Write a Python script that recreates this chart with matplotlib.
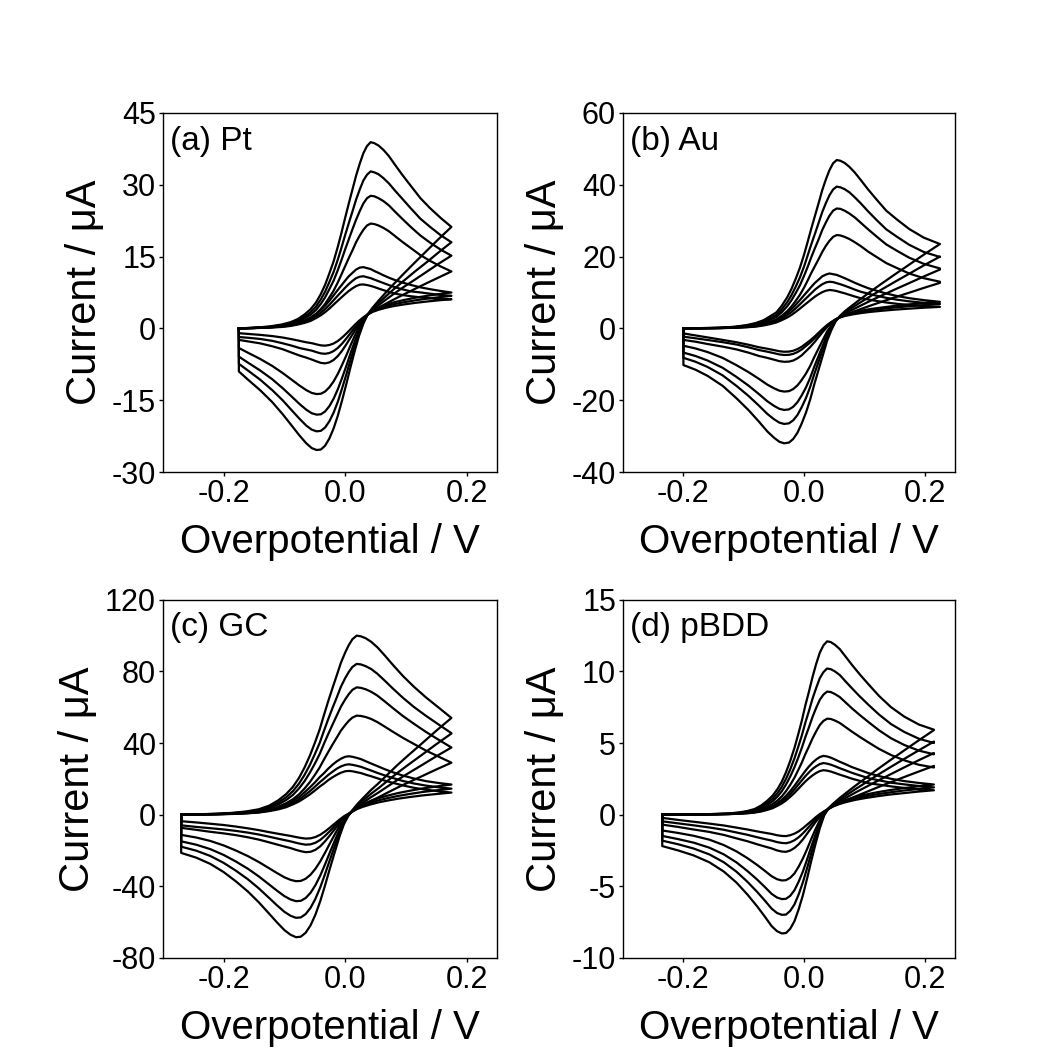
import matplotlib
matplotlib.use("Agg")
import matplotlib.pyplot as plt
from matplotlib.ticker import FormatStrFormatter

plt.rcParams['font.family'] = ['Liberation Sans', 'DejaVu Sans']
plt.rcParams['axes.unicode_minus'] = False

# Each panel: potential grids (V) for the forward and reverse sweeps, and one
# current list (uA) per scan rate, smallest to largest.

# ---------------- (a) Pt ----------------
pt_E_fwd = [-0.175, -0.15, -0.125, -0.105, -0.09, -0.078, -0.067, -0.057, -0.048, -0.04, -0.033,
            -0.026, -0.019, -0.012, -0.006, 0.0, 0.006, 0.012, 0.018, 0.024, 0.03, 0.036, 0.042,
            0.048, 0.055, 0.063, 0.072, 0.082, 0.094, 0.108, 0.124, 0.14, 0.158, 0.175]
pt_E_rev = [0.175, 0.155, 0.135, 0.115, 0.097, 0.081, 0.067, 0.055, 0.045, 0.037, 0.03, 0.023,
            0.016, 0.009, 0.002, -0.005, -0.012, -0.019, -0.026, -0.033, -0.04, -0.047, -0.055,
            -0.064, -0.075, -0.088, -0.103, -0.12, -0.14, -0.16, -0.175]
pt_fwd = [
    [0.0, 0.06, 0.17, 0.3, 0.51, 0.81, 1.15, 1.56, 2.16, 2.76, 3.4, 4.14, 4.97, 5.8, 6.49, 7.18, 7.82,
     8.37, 8.83, 9.14, 9.18, 9.06, 8.88, 8.65, 8.33, 8.0, 7.64, 7.27, 6.99, 6.72, 6.49, 6.3, 6.19, 6.1],
    [0.0, 0.08, 0.2, 0.36, 0.6, 0.96, 1.36, 1.85, 2.56, 3.27, 4.03, 4.91, 5.89, 6.87, 7.68, 8.5, 9.27,
     9.92, 10.5, 10.8, 10.9, 10.7, 10.5, 10.2, 9.86, 9.48, 9.05, 8.61, 8.18, 7.74, 7.52, 7.25, 6.98, 6.8],
    [0.0, 0.09, 0.23, 0.42, 0.7, 1.13, 1.6, 2.18, 3.0, 3.84, 4.74, 5.76, 6.91, 8.06, 9.02, 9.98, 10.9,
     11.6, 12.3, 12.7, 12.8, 12.6, 12.4, 12.0, 11.6, 11.1, 10.6, 10.1, 9.6, 9.09, 8.58, 8.19, 7.81, 7.5],
    [0.0, 0.08, 0.23, 0.45, 0.73, 1.1, 1.63, 2.25, 3.04, 4.05, 5.12, 6.47, 7.88, 9.63, 11.3, 13.0, 14.7,
     16.3, 18.0, 19.4, 20.6, 21.5, 21.9, 21.8, 21.5, 21.0, 20.3, 19.3, 18.1, 16.8, 15.3, 14.1, 12.9, 11.9],
    [0.0, 0.11, 0.29, 0.57, 0.93, 1.39, 2.07, 2.85, 3.85, 5.13, 6.49, 8.2, 9.98, 12.2, 14.3, 16.5, 18.6,
     20.7, 22.7, 24.5, 26.1, 27.2, 27.7, 27.6, 27.2, 26.6, 25.7, 24.4, 22.9, 21.2, 19.4, 17.9, 16.4, 15.2],
    [0.0, 0.13, 0.34, 0.67, 1.1, 1.64, 2.44, 3.37, 4.55, 6.07, 7.67, 9.69, 11.8, 14.4, 16.9, 19.5, 22.0,
     24.4, 26.9, 29.0, 30.9, 32.1, 32.8, 32.6, 32.2, 31.4, 30.3, 28.8, 27.1, 25.1, 22.9, 21.2, 19.4, 18.0],
    [0.0, 0.15, 0.4, 0.8, 1.3, 1.95, 2.9, 4.0, 5.4, 7.2, 9.1, 11.5, 14.0, 17.1, 20.0, 23.1, 26.1,
     29.0, 31.9, 34.4, 36.6, 38.1, 38.9, 38.7, 38.2, 37.3, 36.0, 34.2, 32.1, 29.8, 27.2, 25.1, 23.0, 21.2],
]
pt_rev = [
    [6.1, 5.88, 5.62, 5.33, 5.01, 4.69, 4.31, 3.89, 3.44, 2.9, 2.32, 1.6, 0.76, -0.16, -1.07, -1.91,
     -2.63, -3.15, -3.47, -3.6, -3.54, -3.34, -3.08, -2.9, -2.6, -2.25, -1.9, -1.6, -1.35, -1.15, -1.0],
    [6.8, 6.53, 6.22, 5.86, 5.47, 5.08, 4.62, 4.11, 3.56, 2.9, 2.16, 1.26, 0.19, -0.95, -2.1, -3.17,
     -4.07, -4.73, -5.14, -5.3, -5.22, -4.97, -4.64, -4.4, -4.1, -3.6, -3.1, -2.6, -2.2, -1.95, -1.8],
    [7.5, 7.18, 6.81, 6.4, 5.94, 5.48, 4.92, 4.33, 3.68, 2.9, 1.98, 0.86, -0.47, -1.89, -3.32, -4.65,
     -5.77, -6.59, -7.1, -7.3, -7.2, -6.89, -6.5, -6.1, -5.67, -5.06, -4.34, -3.73, -3.12, -2.71, -2.4],
    [11.9, 10.7, 9.5, 8.26, 7.13, 6.1, 5.16, 4.33, 3.59, 2.9, 1.78, 0.32, -1.5, -3.5, -5.61, -7.61,
     -9.49, -11.07, -12.3, -13.18, -13.65, -13.71, -13.48, -12.89, -11.95, -10.72, -9.31, -7.84, -6.37, -5.08, -4.09],
    [15.2, 13.6, 11.9, 10.2, 8.7, 7.3, 6.0, 4.85, 3.84, 2.9, 1.5, -0.35, -2.64, -5.16, -7.82, -10.33,
     -12.69, -14.69, -16.24, -17.35, -17.94, -18.01, -17.72, -16.98, -15.8, -14.24, -12.47, -10.62, -8.78, -7.15, -5.89],
    [18.0, 16.0, 13.9, 11.9, 10.0, 8.3, 6.7, 5.3, 4.1, 2.9, 1.26, -0.89, -3.57, -6.5, -9.6, -12.5,
     -15.3, -17.6, -19.4, -20.7, -21.4, -21.5, -21.15, -20.3, -18.9, -17.1, -15.0, -12.9, -10.7, -8.8, -7.4],
    [21.2, 18.8, 16.3, 13.8, 11.5, 9.4, 7.5, 5.8, 4.3, 2.9, 1.0, -1.5, -4.6, -8.0, -11.6, -15.0,
     -18.2, -20.9, -23.0, -24.5, -25.3, -25.4, -25.0, -24.0, -22.4, -20.3, -17.9, -15.4, -12.9, -10.7, -9.0],
]

# ---------------- (b) Au ----------------
au_E_fwd = [-0.2, -0.17, -0.14, -0.115, -0.095, -0.08, -0.067, -0.056, -0.046, -0.037, -0.028,
            -0.021, -0.014, -0.007, 0.0, 0.006, 0.012, 0.018, 0.024, 0.03, 0.036, 0.042, 0.048,
            0.054, 0.06, 0.067, 0.075, 0.084, 0.094, 0.106, 0.12, 0.136, 0.154, 0.174, 0.198, 0.225]
au_E_rev = [0.225, 0.2, 0.175, 0.15, 0.128, 0.109, 0.093, 0.079, 0.067, 0.059, 0.052, 0.045, 0.038,
            0.031, 0.024, 0.017, 0.01, 0.003, -0.004, -0.011, -0.018, -0.025, -0.033, -0.041, -0.05,
            -0.061, -0.075, -0.092, -0.112, -0.135, -0.16, -0.18, -0.2]
au_fwd = [
    [0.0, 0.03, 0.07, 0.17, 0.32, 0.5, 0.83, 1.21, 1.66, 2.3, 3.05, 3.75, 4.6, 5.51, 6.47, 7.28, 8.08,
     8.88, 9.52, 10.1, 10.5, 10.7, 10.6, 10.4, 10.1, 9.79, 9.36, 8.88, 8.4, 8.08, 7.65, 7.22, 6.85, 6.53, 6.24, 6.0],
    [0.0, 0.04, 0.09, 0.21, 0.39, 0.61, 1.01, 1.47, 2.02, 2.8, 3.71, 4.55, 5.59, 6.7, 7.87, 8.84, 9.82,
     10.8, 11.6, 12.3, 12.8, 13.0, 12.9, 12.6, 12.3, 11.9, 11.4, 10.8, 10.2, 9.69, 9.1, 8.52, 8.0, 7.54, 7.15, 6.8],
    [0.0, 0.05, 0.11, 0.24, 0.46, 0.72, 1.19, 1.73, 2.37, 3.29, 4.36, 5.36, 6.58, 7.88, 9.26, 10.4, 11.6,
     12.7, 13.6, 14.5, 15.0, 15.3, 15.1, 14.9, 14.5, 14.0, 13.4, 12.7, 12.0, 11.2, 10.5, 9.72, 9.03, 8.42, 7.88, 7.4],
    [0.0, 0.05, 0.11, 0.26, 0.52, 0.83, 1.27, 1.89, 2.47, 3.51, 4.81, 6.09, 7.65, 9.36, 11.4, 13.4, 15.5,
     17.4, 19.3, 21.3, 23.0, 24.4, 25.5, 26.0, 25.9, 25.5, 24.9, 24.0, 22.9, 21.4, 19.9, 18.2, 16.8, 15.3, 14.0, 13.0],
    [0.0, 0.06, 0.14, 0.33, 0.67, 1.07, 1.64, 2.44, 3.18, 4.51, 6.18, 7.83, 9.83, 12.0, 14.7, 17.2, 19.9,
     22.4, 24.8, 27.4, 29.5, 31.4, 32.8, 33.4, 33.3, 32.8, 32.0, 30.9, 29.4, 27.6, 25.6, 23.4, 21.6, 19.7, 18.0, 16.7],
    [0.0, 0.08, 0.16, 0.4, 0.79, 1.26, 1.94, 2.88, 3.76, 5.33, 7.31, 9.26, 11.6, 14.2, 17.3, 20.4, 23.5,
     26.4, 29.4, 32.4, 34.9, 37.1, 38.7, 39.5, 39.3, 38.8, 37.9, 36.5, 34.8, 32.6, 30.2, 27.6, 25.5, 23.3, 21.3, 19.9],
    [0.0, 0.09, 0.19, 0.47, 0.94, 1.5, 2.3, 3.42, 4.46, 6.33, 8.68, 11.0, 13.8, 16.9, 20.6, 24.2, 27.9,
     31.4, 34.9, 38.5, 41.5, 44.1, 46.0, 46.9, 46.7, 46.1, 45.0, 43.4, 41.3, 38.7, 35.9, 32.8, 30.3, 27.7, 25.3, 23.5],
]
au_rev = [
    [6.0, 5.78, 5.52, 5.22, 4.9, 4.59, 4.24, 3.86, 3.44, 3.02, 2.52, 1.78, 0.94, -0.08, -1.2, -2.32,
     -3.34, -4.22, -5.11, -5.76, -6.22, -6.45, -6.5, -6.36, -6.04, -5.66, -5.24, -4.55, -3.85, -3.2, -2.5, -1.95, -1.4],
    [6.8, 6.52, 6.2, 5.82, 5.42, 5.04, 4.6, 4.12, 3.6, 3.08, 2.49, 1.68, 0.76, -0.36, -1.59, -2.81,
     -3.93, -4.9, -5.87, -6.58, -7.09, -7.35, -7.4, -7.25, -6.89, -6.48, -6.02, -5.26, -4.49, -3.83, -3.22, -2.75, -2.3],
    [7.4, 7.08, 6.71, 6.27, 5.81, 5.38, 4.87, 4.32, 3.72, 3.12, 2.44, 1.47, 0.38, -0.95, -2.4, -3.86,
     -5.19, -6.34, -7.49, -8.33, -8.94, -9.24, -9.3, -9.12, -8.7, -8.21, -7.67, -6.76, -5.85, -5.07, -4.34, -3.7, -3.2],
    [12.69, 11.38, 10.0, 8.64, 7.4, 6.3, 5.34, 4.48, 3.72, 3.1, 2.29, 0.86, -0.87, -3.22, -5.56, -7.91,
     -10.46, -12.59, -14.35, -15.86, -16.88, -17.47, -17.59, -17.35, -16.67, -15.65, -14.04, -12.19, -10.25, -8.21, -6.58, -5.58, -4.82],
    [16.4, 14.59, 12.7, 10.82, 9.13, 7.62, 6.3, 5.11, 4.07, 3.21, 2.16, 0.37, -1.79, -4.73, -7.66, -10.59,
     -13.78, -16.46, -18.65, -20.54, -21.81, -22.55, -22.71, -22.4, -21.56, -20.28, -18.27, -15.95, -13.52, -10.97, -8.94, -7.68, -6.73],
    [20.0, 17.72, 15.32, 12.95, 10.8, 8.89, 7.22, 5.73, 4.4, 3.32, 2.06, 0.0, -2.49, -5.88, -9.26, -12.64,
     -16.31, -19.4, -21.93, -24.1, -25.58, -26.43, -26.61, -26.25, -25.28, -23.81, -21.49, -18.82, -16.02, -13.08, -10.73, -9.28, -8.19],
    [23.5, 20.75, 17.87, 15.01, 12.43, 10.13, 8.12, 6.32, 4.73, 3.42, 1.93, -0.51, -3.46, -7.47, -11.47, -15.47,
     -19.82, -23.47, -26.47, -29.04, -30.78, -31.79, -32.0, -31.58, -30.43, -28.69, -25.94, -22.78, -19.47, -15.99, -13.21, -11.5, -10.2],
]

# ---------------- (c) GC ----------------
gc_E_fwd = [-0.27, -0.24, -0.21, -0.185, -0.162, -0.142, -0.125, -0.11, -0.097, -0.086, -0.076,
            -0.067, -0.058, -0.05, -0.042, -0.035, -0.028, -0.021, -0.014, -0.007, 0.0, 0.006, 0.012,
            0.019, 0.026, 0.034, 0.043, 0.053, 0.065, 0.079, 0.095, 0.113, 0.133, 0.155, 0.175]
gc_E_rev = [0.175, 0.15, 0.127, 0.106, 0.087, 0.07, 0.055, 0.042, 0.03, 0.02, 0.012, 0.005, -0.002,
            -0.009, -0.017, -0.025, -0.033, -0.041, -0.049, -0.057, -0.065, -0.073, -0.081, -0.09,
            -0.1, -0.112, -0.126, -0.142, -0.16, -0.18, -0.2, -0.222, -0.245, -0.27]
gc_fwd = [
    [0.0, 0.05, 0.17, 0.37, 0.68, 1.15, 1.95, 2.93, 4.15, 5.73, 7.32, 9.27, 11.3, 13.4, 15.6, 17.3, 19.2,
     20.8, 22.2, 23.4, 24.2, 24.4, 24.2, 23.7, 23.2, 22.3, 21.4, 20.3, 19.0, 17.7, 16.3, 15.0, 13.9, 13.0, 12.3],
    [0.0, 0.06, 0.2, 0.42, 0.79, 1.32, 2.25, 3.37, 4.78, 6.6, 8.43, 10.7, 13.1, 15.5, 18.0, 20.0, 22.1,
     23.9, 25.6, 26.9, 27.8, 28.1, 27.8, 27.3, 26.7, 25.7, 24.6, 23.3, 21.9, 20.4, 18.8, 17.4, 16.2, 15.2, 14.5],
    [0.0, 0.07, 0.23, 0.49, 0.91, 1.53, 2.61, 3.91, 5.54, 7.66, 9.78, 12.4, 15.2, 17.9, 20.9, 23.1, 25.6,
     27.8, 29.7, 31.2, 32.3, 32.6, 32.3, 31.7, 31.0, 29.8, 28.5, 27.1, 25.4, 23.6, 21.8, 20.2, 18.7, 17.6, 16.8],
    [0.0, 0.11, 0.28, 0.55, 1.0, 1.66, 2.77, 4.42, 6.36, 8.57, 11.3, 14.5, 18.2, 22.1, 26.3, 30.7, 34.9,
     39.0, 42.9, 46.9, 50.0, 52.4, 54.2, 55.3, 55.1, 54.5, 53.4, 51.7, 49.2, 46.2, 42.9, 39.5, 35.8, 32.2, 29.0],
    [0.0, 0.14, 0.36, 0.71, 1.28, 2.13, 3.56, 5.69, 8.18, 11.0, 14.6, 18.6, 23.5, 28.4, 33.8, 39.5, 44.9,
     50.1, 55.2, 60.3, 64.3, 67.3, 69.7, 71.1, 70.8, 70.0, 68.6, 66.5, 63.3, 59.4, 55.1, 50.8, 46.2, 41.6, 37.5],
    [0.0, 0.17, 0.42, 0.84, 1.52, 2.53, 4.21, 6.74, 9.68, 13.1, 17.3, 22.1, 27.8, 33.7, 40.0, 46.7, 53.2,
     59.4, 65.3, 71.4, 76.2, 79.7, 82.5, 84.2, 83.9, 82.9, 81.3, 78.7, 74.9, 70.3, 65.3, 60.2, 55.2, 50.1, 45.5],
    [0.0, 0.2, 0.5, 1.0, 1.8, 3.0, 5.0, 8.0, 11.5, 15.5, 20.5, 26.2, 33.0, 40.0, 47.5, 55.5, 63.2,
     70.5, 77.6, 84.8, 90.5, 94.7, 98.0, 100.0, 99.6, 98.5, 96.5, 93.5, 89.0, 83.5, 77.5, 71.5, 65.5, 59.5, 54.0],
]
gc_rev = [
    [12.3, 11.5, 10.7, 9.79, 8.88, 7.85, 6.83, 5.69, 4.43, 3.18, 1.7, 0.4, -0.96, -2.75, -4.96, -7.25,
     -9.4, -11.26, -12.54, -13.26, -13.4, -13.04, -12.54, -11.9, -11.33, -10.61, -9.75, -8.68, -7.68,
     -6.68, -5.82, -5.11, -4.39, -3.7],
    [14.5, 13.55, 12.6, 11.51, 10.42, 9.2, 7.97, 6.61, 5.12, 3.62, 1.85, 0.28, -1.4, -3.61, -6.36, -9.19,
     -11.84, -14.15, -15.74, -16.62, -16.8, -16.36, -15.74, -14.94, -14.23, -13.35, -12.29, -11.14, -10.07,
     -9.1, -8.3, -7.6, -6.89, -6.0],
    [16.8, 15.69, 14.57, 13.3, 12.03, 10.6, 9.17, 7.58, 5.83, 4.08, 2.01, 0.13, -1.95, -4.68, -8.08, -11.58,
     -14.87, -17.72, -19.69, -20.78, -21.0, -20.45, -19.69, -18.7, -17.82, -16.73, -15.42, -13.99, -12.68,
     -11.47, -10.49, -9.61, -8.52, -7.4],
    [29.0, 25.2, 21.55, 18.26, 15.23, 12.31, 9.69, 7.59, 5.4, 3.51, 1.74, -0.06, -2.53, -6.15, -11.02, -16.05,
     -21.24, -26.15, -30.3, -33.58, -35.83, -37.05, -37.2, -36.44, -35.03, -32.7, -29.81, -26.53, -23.22,
     -20.05, -17.23, -14.72, -12.81, -11.34],
    [37.5, 32.55, 27.79, 23.51, 19.56, 15.75, 12.35, 9.61, 6.76, 4.3, 2.0, -0.34, -3.54, -8.22, -14.52, -21.02,
     -27.73, -34.08, -39.46, -43.7, -46.6, -48.18, -48.37, -47.39, -45.56, -42.56, -38.82, -34.58, -30.29,
     -26.2, -22.55, -19.3, -16.84, -14.93],
    [45.3, 39.3, 33.53, 28.34, 23.54, 18.92, 14.79, 11.47, 8.01, 5.03, 2.23, -0.57, -4.38, -9.94, -17.43, -25.16,
     -33.13, -40.68, -47.07, -52.11, -55.56, -57.44, -57.67, -56.5, -54.33, -50.76, -46.31, -41.27, -36.18,
     -31.32, -26.98, -23.11, -20.18, -17.92],
    [54.0, 46.83, 39.93, 33.72, 27.98, 22.46, 17.52, 13.54, 9.4, 5.84, 2.49, -0.84, -5.35, -11.94, -20.82, -29.98,
     -39.42, -48.37, -55.94, -61.91, -66.0, -68.22, -68.5, -67.11, -64.54, -60.31, -55.04, -49.07, -43.03,
     -37.27, -32.13, -27.55, -24.08, -21.4],
]

# ---------------- (d) pBDD ----------------
bdd_E_fwd = [-0.235, -0.2, -0.17, -0.145, -0.125, -0.108, -0.094, -0.082, -0.071, -0.061, -0.052,
             -0.044, -0.037, -0.03, -0.023, -0.016, -0.01, -0.004, 0.002, 0.008, 0.014, 0.02, 0.026,
             0.032, 0.038, 0.044, 0.051, 0.059, 0.068, 0.079, 0.092, 0.107, 0.124, 0.144, 0.166, 0.19, 0.215]
bdd_E_rev = [0.215, 0.19, 0.165, 0.142, 0.121, 0.102, 0.085, 0.07, 0.058, 0.048, 0.04, 0.033, 0.026,
             0.019, 0.012, 0.005, -0.002, -0.009, -0.016, -0.023, -0.03, -0.037, -0.045, -0.054,
             -0.065, -0.078, -0.094, -0.112, -0.133, -0.157, -0.183, -0.209, -0.235]
bdd_fwd = [
    [0.0, 0.0, 0.01, 0.02, 0.03, 0.06, 0.09, 0.14, 0.22, 0.33, 0.45, 0.62, 0.78, 0.99, 1.24, 1.52, 1.78,
     2.05, 2.31, 2.54, 2.74, 2.91, 3.04, 3.1, 3.07, 3.01, 2.91, 2.79, 2.67, 2.51, 2.36, 2.19, 2.09, 1.97, 1.86, 1.77, 1.7],
    [0.0, 0.0, 0.01, 0.02, 0.04, 0.07, 0.11, 0.17, 0.25, 0.39, 0.52, 0.72, 0.9, 1.15, 1.44, 1.76, 2.07,
     2.38, 2.68, 2.95, 3.19, 3.38, 3.53, 3.6, 3.56, 3.49, 3.38, 3.24, 3.1, 2.92, 2.74, 2.54, 2.39, 2.23, 2.11, 2.0, 1.9],
    [0.0, 0.0, 0.01, 0.02, 0.05, 0.08, 0.12, 0.19, 0.29, 0.44, 0.59, 0.82, 1.03, 1.31, 1.64, 2.01, 2.36,
     2.71, 3.05, 3.36, 3.63, 3.85, 4.02, 4.1, 4.06, 3.98, 3.85, 3.69, 3.53, 3.32, 3.12, 2.89, 2.69, 2.5, 2.34, 2.21, 2.1],
    [0.0, 0.01, 0.01, 0.03, 0.04, 0.08, 0.14, 0.22, 0.35, 0.54, 0.74, 0.99, 1.27, 1.64, 2.08, 2.58, 3.09,
     3.62, 4.22, 4.76, 5.33, 5.82, 6.26, 6.54, 6.7, 6.68, 6.57, 6.4, 6.13, 5.8, 5.43, 5.03, 4.59, 4.16, 3.79, 3.48, 3.29],
    [0.0, 0.01, 0.01, 0.04, 0.06, 0.11, 0.18, 0.28, 0.45, 0.69, 0.94, 1.27, 1.63, 2.1, 2.66, 3.31, 3.95,
     4.64, 5.41, 6.1, 6.83, 7.46, 8.02, 8.38, 8.59, 8.56, 8.42, 8.21, 7.86, 7.43, 6.96, 6.45, 5.89, 5.33, 4.86, 4.47, 4.21],
    [0.0, 0.01, 0.02, 0.04, 0.07, 0.13, 0.21, 0.33, 0.54, 0.82, 1.12, 1.51, 1.94, 2.5, 3.16, 3.93, 4.7,
     5.5, 6.42, 7.24, 8.11, 8.85, 9.53, 9.95, 10.2, 10.16, 10.0, 9.75, 9.33, 8.83, 8.26, 7.65, 6.99, 6.32, 5.77, 5.3, 5.0],
    [0.0, 0.01, 0.02, 0.05, 0.08, 0.15, 0.25, 0.39, 0.64, 0.97, 1.33, 1.79, 2.3, 2.96, 3.75, 4.66, 5.57,
     6.53, 7.62, 8.59, 9.62, 10.53, 11.31, 11.82, 12.1, 12.05, 11.86, 11.56, 11.07, 10.47, 9.8, 9.08, 8.29, 7.5, 6.84, 6.29, 5.93],
]
bdd_rev = [
    [1.7, 1.61, 1.5, 1.4, 1.28, 1.16, 1.03, 0.88, 0.73, 0.57, 0.39, 0.23, 0.04, -0.19, -0.45, -0.7,
     -0.95, -1.17, -1.33, -1.44, -1.5, -1.49, -1.44, -1.35, -1.27, -1.17, -1.04, -0.91, -0.76, -0.63, -0.5, -0.37, -0.23],
    [1.9, 1.79, 1.68, 1.55, 1.42, 1.28, 1.13, 0.95, 0.78, 0.61, 0.4, 0.2, -0.05, -0.33, -0.66, -0.99,
     -1.31, -1.58, -1.79, -1.93, -2.0, -1.98, -1.92, -1.81, -1.71, -1.58, -1.41, -1.25, -1.06, -0.9, -0.75, -0.61, -0.47],
    [2.1, 1.98, 1.85, 1.71, 1.56, 1.4, 1.23, 1.03, 0.84, 0.64, 0.4, 0.16, -0.15, -0.51, -0.92, -1.33,
     -1.73, -2.07, -2.33, -2.51, -2.6, -2.58, -2.5, -2.36, -2.23, -2.07, -1.86, -1.66, -1.42, -1.21, -1.04, -0.86, -0.7],
    [3.4, 3.01, 2.61, 2.24, 1.89, 1.56, 1.27, 1.0, 0.78, 0.58, 0.39, 0.1, -0.39, -1.01, -1.68, -2.4,
     -3.06, -3.63, -4.11, -4.41, -4.58, -4.6, -4.51, -4.3, -3.93, -3.51, -3.04, -2.57, -2.13, -1.75, -1.48, -1.28, -1.11],
    [4.3, 3.8, 3.28, 2.79, 2.34, 1.92, 1.54, 1.19, 0.91, 0.64, 0.41, 0.04, -0.59, -1.37, -2.22, -3.12,
     -3.97, -4.68, -5.28, -5.67, -5.88, -5.9, -5.79, -5.53, -5.06, -4.53, -3.94, -3.34, -2.78, -2.31, -1.96, -1.71, -1.49],
    [5.1, 4.49, 3.87, 3.29, 2.75, 2.23, 1.78, 1.36, 1.02, 0.7, 0.42, -0.02, -0.76, -1.67, -2.67, -3.73,
     -4.72, -5.57, -6.27, -6.72, -6.98, -7.0, -6.87, -6.56, -6.01, -5.39, -4.69, -3.99, -3.33, -2.78, -2.37, -2.07, -1.82],
    [5.9, 5.19, 4.46, 3.78, 3.15, 2.55, 2.02, 1.53, 1.13, 0.76, 0.43, -0.08, -0.95, -2.03, -3.2, -4.45,
     -5.62, -6.61, -7.44, -7.97, -8.27, -8.3, -8.14, -7.78, -7.13, -6.4, -5.58, -4.75, -3.98, -3.33, -2.85, -2.5, -2.2],
]

panels = [
    ('(a) Pt', pt_E_fwd, pt_E_rev, pt_fwd, pt_rev, (-30, 45), [-30, -15, 0, 15, 30, 45]),
    ('(b) Au', au_E_fwd, au_E_rev, au_fwd, au_rev, (-40, 60), [-40, -20, 0, 20, 40, 60]),
    ('(c) GC', gc_E_fwd, gc_E_rev, gc_fwd, gc_rev, (-80, 120), [-80, -40, 0, 40, 80, 120]),
    ('(d) pBDD', bdd_E_fwd, bdd_E_rev, bdd_fwd, bdd_rev, (-10, 15), [-10, -5, 0, 5, 10, 15]),
]

# axes boxes in figure fractions (left, bottom, width, height)
boxes = [
    (0.1555, 0.553, 0.3187, 0.340),
    (0.5945, 0.553, 0.3168, 0.340),
    (0.1555, 0.093, 0.3187, 0.339),
    (0.5945, 0.093, 0.3168, 0.339),
]

fig = plt.figure(figsize=(10.48, 10.56), dpi=100)

for (label, e_fwd, e_rev, fwd, rev, ylim, yticks), box in zip(panels, boxes):
    ax = fig.add_axes(box)
    for f, r in zip(fwd, rev):
        # one closed cycle: forward sweep, reverse sweep, back to the start
        xs = e_fwd + e_rev + [e_fwd[0]]
        ys = f + r + [f[0]]
        ax.plot(xs, ys, color='black', lw=1.6, solid_joinstyle='round')
    ax.set_xlim(-0.3, 0.25)
    ax.set_ylim(*ylim)
    ax.set_xticks([-0.2, 0.0, 0.2])
    ax.set_yticks(yticks)
    ax.xaxis.set_major_formatter(FormatStrFormatter('%.1f'))
    ax.yaxis.set_major_formatter(FormatStrFormatter('%d'))
    ax.tick_params(direction='out', length=3, width=1, labelsize=22, pad=2)
    for s in ax.spines.values():
        s.set_linewidth(1.0)
    ax.set_xlabel('Overpotential / V', fontsize=29, labelpad=10)
    ax.set_ylabel('Current / \u03bcA', fontsize=30, labelpad=5)
    ax.text(0.02, 0.965, label, transform=ax.transAxes, fontsize=24,
            ha='left', va='top')

fig.savefig('out.png', dpi=100)
